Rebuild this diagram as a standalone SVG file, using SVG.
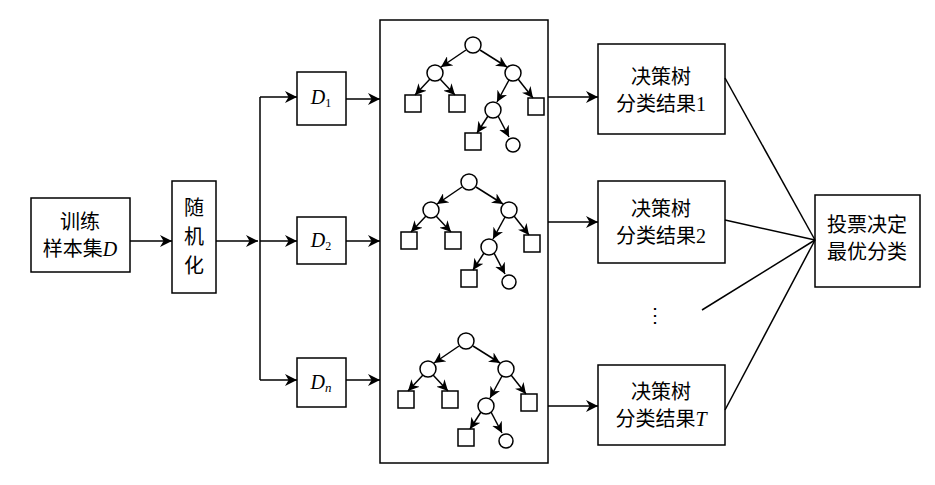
<svg xmlns="http://www.w3.org/2000/svg" width="935" height="485" viewBox="0 0 935 485">
<defs>
<marker id="a" viewBox="0 0 10 10" refX="10" refY="5" markerWidth="11" markerHeight="11" markerUnits="userSpaceOnUse" orient="auto"><path d="M0,0 L10,5 L0,10 L3,5 Z" fill="#000"/></marker>
<marker id="b" viewBox="0 0 10 10" refX="10" refY="5" markerWidth="12" markerHeight="12" markerUnits="userSpaceOnUse" orient="auto"><path d="M0,0 L10,5 L0,10 L3,5 Z" fill="#000"/></marker>
<g id="tree">
<circle cx="0" cy="0" r="8"/>
<circle cx="-38" cy="28" r="8"/>
<circle cx="40" cy="28" r="8"/>
<circle cx="20" cy="65" r="8"/>
<circle cx="40" cy="100" r="7"/>
<rect x="-68" y="50" width="16" height="17"/>
<rect x="-24" y="50" width="16" height="17"/>
<rect x="55" y="53" width="16" height="17"/>
<rect x="-8" y="88" width="16" height="17"/>
<g class="ta">
<line x1="-7" y1="5" x2="-32" y2="22"/>
<line x1="7" y1="5" x2="34" y2="22"/>
<line x1="-43" y1="34" x2="-58" y2="50"/>
<line x1="-33" y1="34" x2="-18" y2="50"/>
<line x1="36" y1="35" x2="24" y2="57"/>
<line x1="45" y1="34" x2="60" y2="53"/>
<line x1="15" y1="71" x2="4" y2="88"/>
<line x1="25" y1="71" x2="36" y2="92"/>
</g>
</g>
</defs>
<style>
rect,circle{fill:#fff;stroke:#000;stroke-width:1.5}
line,polyline{stroke:#000;stroke-width:1.5;fill:none}
.c line,.c polyline{marker-end:url(#b)}
.ta line{marker-end:url(#a)}
.v line{marker-end:none}
text{font-family:"Liberation Serif","Noto Sans CJK SC",serif;font-size:20px;text-anchor:middle}
.i{font-style:italic}
</style>
<g id="n-train"><rect x="31" y="198" width="99" height="74"/><text x="80" y="229">训练</text><text x="80" y="256">样本集<tspan class="i">D</tspan></text></g>
<g id="n-rand"><rect x="172" y="181" width="44" height="112"/><text x="194" y="215">随</text><text x="194" y="244">机</text><text x="194" y="273">化</text></g>
<g id="n-d1"><rect x="297" y="72" width="49" height="53"/><text x="321" y="104"><tspan class="i">D</tspan><tspan font-size="12" dy="3">1</tspan></text></g>
<g id="n-d2"><rect x="297" y="217" width="49" height="47"/><text x="321" y="247"><tspan class="i">D</tspan><tspan font-size="12" dy="3">2</tspan></text></g>
<g id="n-dn"><rect x="297" y="358" width="49" height="49"/><text x="321" y="389"><tspan class="i">D</tspan><tspan font-size="13" dy="3" class="i">n</tspan></text></g>
<g id="n-forest"><rect x="380" y="20" width="168" height="443"/>
<use href="#tree" x="473" y="45"/><use href="#tree" x="469" y="182"/><use href="#tree" x="466" y="341"/></g>
<g id="n-r1"><rect x="598" y="44" width="127" height="90"/><text x="661" y="84">决策树</text><text x="661" y="111">分类结果1</text></g>
<g id="n-r2"><rect x="598" y="181" width="127" height="82"/><text x="661" y="216">决策树</text><text x="661" y="243">分类结果2</text></g>
<g id="n-rt"><rect x="598" y="365" width="127" height="80"/><text x="661" y="399">决策树</text><text x="661" y="426">分类结果<tspan class="i">T</tspan></text></g>
<g id="n-vote"><rect x="815" y="195" width="105" height="92"/><text x="867" y="232">投票决定</text><text x="867" y="259">最优分类</text></g>
<text x="655" y="322" font-size="18">⋮</text>
<g id="connectors" class="c">
<line x1="130" y1="241" x2="172" y2="241"/>
<line x1="216" y1="241" x2="258" y2="241"/>
<g class="v"><line x1="260" y1="97" x2="260" y2="380"/></g>
<line x1="260" y1="97" x2="297" y2="97"/>
<line x1="260" y1="241" x2="297" y2="241"/>
<line x1="260" y1="380" x2="297" y2="380"/>
<line x1="346" y1="99" x2="380" y2="99"/>
<line x1="346" y1="241" x2="380" y2="241"/>
<line x1="346" y1="380" x2="380" y2="380"/>
<line x1="548" y1="97" x2="598" y2="97"/>
<line x1="548" y1="222" x2="598" y2="222"/>
<line x1="548" y1="406" x2="598" y2="406"/>
<g class="v">
<line x1="725" y1="78" x2="815" y2="240"/>
<line x1="725" y1="220" x2="815" y2="240"/>
<line x1="702" y1="310" x2="815" y2="240"/>
<line x1="725" y1="410" x2="815" y2="240"/>
</g>
</g>
</svg>
